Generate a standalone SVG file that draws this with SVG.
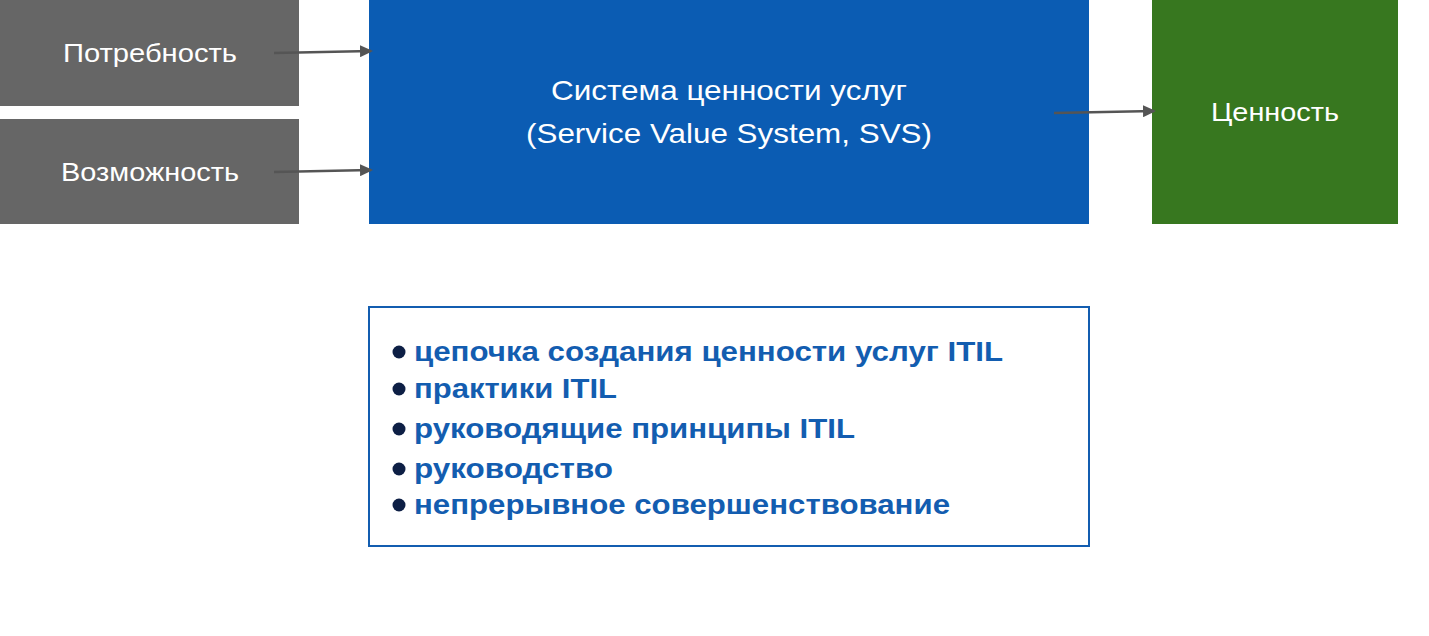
<svg xmlns="http://www.w3.org/2000/svg" width="1429" height="636" viewBox="0 0 1429 636">
<style>
.lbl{font-family:"Liberation Sans",Arial,sans-serif;font-size:26.5px;fill:#fff}
.big{font-size:28px}
.item{font-family:"Liberation Sans",Arial,sans-serif;font-size:27px;font-weight:bold;fill:#135DB0}
.con{stroke:#555;stroke-width:2.5;fill:none;marker-end:url(#ah)}
</style>
<defs>
<marker id="ah" markerWidth="13" markerHeight="12" refX="11" refY="6" orient="auto" markerUnits="userSpaceOnUse">
<path d="M0,0 L13,6 L0,12 Z" fill="#555"/>
</marker>
</defs>
<rect width="1429" height="636" fill="#fff"/>
<g id="need"><rect x="0" y="0" width="299" height="106" fill="#666"/><text class="lbl" x="63" y="62" textLength="174" lengthAdjust="spacingAndGlyphs">Потребность</text></g>
<g id="opportunity"><rect x="0" y="119" width="299" height="105" fill="#666"/><text class="lbl" x="61" y="181" textLength="178" lengthAdjust="spacingAndGlyphs">Возможность</text></g>
<g id="svs"><rect x="369" y="0" width="720" height="224" fill="#0B5CB3"/><text class="lbl big" x="551" y="100" textLength="356" lengthAdjust="spacingAndGlyphs">Система ценности услуг</text><text class="lbl big" x="526" y="143" textLength="406" lengthAdjust="spacingAndGlyphs">(Service Value System, SVS)</text></g>
<g id="value"><rect x="1152" y="0" width="246" height="224" fill="#37771F"/><text class="lbl" x="1211" y="121" textLength="128" lengthAdjust="spacingAndGlyphs">Ценность</text></g>
<g id="components">
<rect x="369" y="307" width="720" height="239" fill="#fff" stroke="#135DB0" stroke-width="2"/>
<g fill="#0D1F45"><circle cx="399" cy="352" r="6.5"/><circle cx="399" cy="389" r="6.5"/><circle cx="399" cy="429" r="6.5"/><circle cx="399" cy="469" r="6.5"/><circle cx="399" cy="505" r="6.5"/></g>
<text class="item" x="414" y="361" textLength="589" lengthAdjust="spacingAndGlyphs">цепочка создания ценности услуг ITIL</text>
<text class="item" x="414" y="398" textLength="203" lengthAdjust="spacingAndGlyphs">практики ITIL</text>
<text class="item" x="414" y="438" textLength="441" lengthAdjust="spacingAndGlyphs">руководящие принципы ITIL</text>
<text class="item" x="414" y="478" textLength="199" lengthAdjust="spacingAndGlyphs">руководство</text>
<text class="item" x="414" y="514" textLength="536" lengthAdjust="spacingAndGlyphs">непрерывное совершенствование</text>
</g>
<g id="connectors">
<line class="con" x1="274" y1="53" x2="371" y2="51"/>
<line class="con" x1="274" y1="172" x2="371" y2="170"/>
<line class="con" x1="1054" y1="113" x2="1154" y2="111"/>
</g>
</svg>
